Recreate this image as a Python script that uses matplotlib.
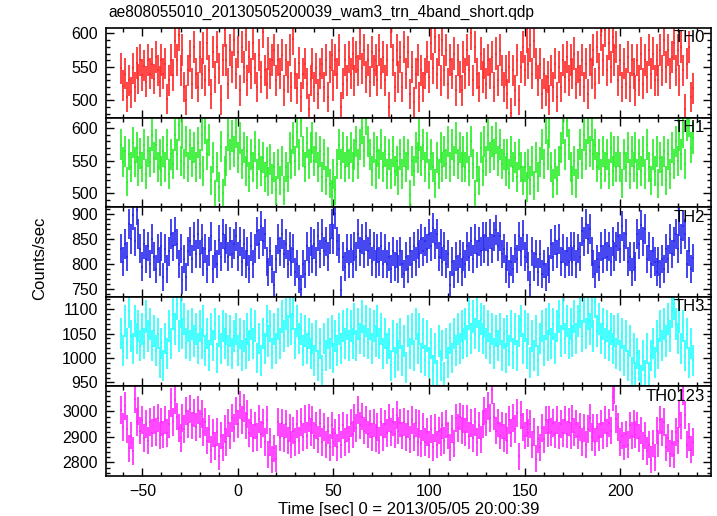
"""Five-band WAM light curve (TH0..TH3 and their sum), 1 s bins, QDP-style stacked panels."""

import matplotlib

matplotlib.use("Agg")
import matplotlib.pyplot as plt
import numpy as np
from matplotlib.ticker import MultipleLocator

TITLE = "ae808055010_20130505200039_wam3_trn_4band_short.qdp"
XLABEL = "Time [sec] 0 = 2013/05/05 20:00:39"
YLABEL = "Counts/sec"
T_START = -61  # centre of the first 1 s bin
BIN = 1.0

th0 = [
    548, 522, 540, 505, 530, 512, 548, 520, 556, 532, 560, 538, 552, 528, 560, 540, 555, 532, 565, 545,
    528, 560, 540, 555, 502, 530, 560, 538, 588, 560, 598, 545, 575, 520, 500, 545, 566, 525, 580, 540,
    520, 565, 540, 578, 530, 585, 545, 510, 572, 535, 580, 548, 500, 560, 605, 560, 525, 575, 550, 590,
    540, 572, 515, 580, 550, 598, 530, 565, 540, 585, 548, 520, 568, 535, 602, 545, 525, 570, 540, 560,
    575, 530, 560, 540, 568, 515, 560, 535, 575, 520, 592, 540, 518, 556, 505, 540, 555, 525, 488, 530,
    555, 520, 548, 510, 540, 555, 520, 560, 505, 550, 568, 522, 560, 540, 575, 490, 525, 560, 530, 565,
    540, 570, 530, 565, 545, 585, 548, 575, 535, 560, 528, 572, 545, 560, 530, 575, 540, 565, 530, 560,
    490, 602, 560, 520, 575, 535, 565, 520, 580, 540, 572, 510, 550, 498, 540, 560, 505, 545, 520, 540,
    565, 535, 585, 548, 595, 540, 575, 530, 590, 545, 575, 525, 560, 540, 570, 515, 560, 535, 515, 565,
    540, 575, 545, 600, 530, 580, 540, 520, 570, 535, 555, 525, 560, 540, 565, 520, 570, 530, 575, 545,
    520, 545, 510, 550, 482, 545, 515, 560, 500, 550, 580, 545, 595, 555, 582, 540, 588, 555, 530, 555,
    510, 540, 515, 535, 500, 545, 520, 555, 505, 550, 520, 560, 535, 565, 530, 560, 540, 570, 525, 550,
    530, 560, 520, 555, 510, 560, 540, 575, 525, 580, 548, 598, 560, 605, 545, 585, 550, 595, 560, 580,
    530, 560, 520, 555, 525, 565, 520, 560, 540, 515, 560, 530, 570, 525, 560, 535, 575, 540, 570, 530,
    560, 530, 575, 545, 590, 550, 575, 540, 565, 585, 545, 575, 530, 580, 545, 488, 555, 580, 505, 518,
]
th1 = [
    575, 548, 565, 518, 560, 540, 578, 548, 570, 535, 562, 540, 575, 530, 565, 548, 590, 555, 575, 540,
    560, 535, 565, 540, 575, 530, 560, 545, 590, 560, 605, 550, 592, 545, 580, 540, 575, 548, 570, 540,
    578, 545, 590, 535, 600, 560, 582, 520, 555, 498, 540, 510, 572, 500, 535, 550, 590, 560, 588, 565,
    595, 555, 585, 545, 570, 535, 565, 525, 560, 540, 572, 530, 560, 535, 555, 525, 548, 518, 552, 522,
    540, 505, 545, 520, 550, 505, 540, 525, 570, 545, 585, 550, 595, 560, 612, 565, 540, 578, 545, 570,
    585, 550, 570, 540, 565, 525, 560, 520, 548, 515, 498, 530, 505, 545, 575, 545, 570, 540, 565, 545,
    570, 540, 560, 580, 545, 575, 600, 565, 614, 580, 560, 535, 570, 530, 565, 545, 575, 540, 565, 530,
    560, 530, 565, 535, 550, 520, 560, 530, 565, 540, 560, 498, 550, 535, 570, 555, 590, 550, 575, 540,
    570, 530, 560, 540, 515, 555, 530, 570, 540, 565, 545, 580, 540, 575, 550, 585, 545, 570, 540, 565,
    540, 570, 535, 580, 545, 498, 540, 520, 570, 535, 580, 550, 590, 555, 580, 560, 585, 550, 575, 545,
    560, 535, 560, 530, 565, 540, 555, 525, 560, 540, 520, 540, 510, 545, 520, 550, 512, 555, 525, 548,
    575, 545, 600, 560, 595, 540, 515, 545, 520, 550, 570, 600, 560, 612, 575, 540, 520, 550, 515, 545,
    575, 545, 590, 560, 600, 565, 605, 560, 575, 540, 560, 530, 565, 540, 560, 530, 570, 535, 565, 540,
    565, 540, 515, 560, 540, 570, 530, 565, 540, 570, 530, 560, 535, 565, 530, 575, 540, 520, 560, 535,
    565, 515, 555, 535, 565, 520, 560, 530, 570, 545, 580, 550, 590, 560, 595, 545, 605, 612, 570, 585,
]
th2 = [
    830, 805, 840, 815, 880, 850, 898, 845, 908, 860, 830, 795, 840, 810, 835, 800, 850, 815, 790, 830,
    805, 835, 775, 830, 790, 825, 860, 835, 865, 840, 800, 830, 768, 810, 775, 825, 845, 810, 855, 820,
    860, 820, 850, 805, 830, 790, 825, 855, 790, 820, 800, 848, 815, 860, 830, 850, 815, 845, 820, 840,
    855, 815, 845, 805, 840, 800, 825, 790, 835, 800, 830, 865, 840, 875, 845, 860, 805, 785, 825, 790,
    758, 810, 850, 825, 860, 820, 840, 800, 835, 805, 830, 785, 800, 770, 750, 800, 780, 835, 805, 845,
    810, 840, 805, 855, 820, 860, 825, 845, 815, 850, 880, 850, 900, 845, 830, 748, 815, 795, 830, 800,
    830, 800, 835, 815, 860, 825, 850, 820, 855, 825, 840, 805, 835, 800, 830, 805, 835, 800, 830, 800,
    815, 790, 825, 795, 820, 790, 825, 800, 780, 815, 790, 825, 800, 835, 805, 840, 820, 850, 825, 845,
    830, 860, 835, 872, 840, 860, 815, 840, 805, 835, 800, 820, 758, 805, 780, 815, 790, 820, 785, 815,
    800, 835, 815, 845, 810, 850, 820, 845, 825, 855, 830, 855, 825, 860, 830, 855, 868, 835, 855, 820,
    830, 790, 815, 780, 805, 790, 830, 810, 855, 825, 858, 815, 830, 795, 758, 825, 795, 820, 785, 820,
    780, 800, 775, 805, 790, 840, 815, 848, 820, 850, 805, 830, 800, 825, 805, 835, 805, 835, 800, 830,
    815, 865, 845, 880, 850, 870, 825, 800, 780, 810, 795, 835, 810, 840, 815, 835, 805, 845, 815, 835,
    855, 830, 875, 835, 860, 805, 815, 785, 815, 795, 860, 840, 878, 845, 870, 810, 835, 800, 825, 805,
    785, 805, 780, 810, 790, 830, 810, 850, 820, 845, 860, 830, 885, 850, 875, 860, 800, 825, 790, 812,
]
th3 = [
    1050, 1015, 1075, 1030, 1095, 1045, 1020, 1075, 1040, 1065, 1025, 1060, 1030, 1085, 1045, 1070, 1025, 1055, 1015, 1050,
    990, 1030, 985, 1040, 1010, 1065, 1030, 1090, 1060, 1110, 1045, 1095, 1050, 1080, 1030, 1065, 1025, 1070, 1035, 1060,
    1020, 1065, 1030, 1075, 1015, 1050, 1005, 1060, 1025, 1070, 1000, 1055, 1020, 1065, 1030, 1060, 1015, 1055, 1010, 1045,
    1060, 1015, 1050, 1005, 1045, 1010, 1060, 1025, 1070, 1030, 1065, 1000, 1040, 995, 1050, 1020, 1075, 1035, 1065, 1010,
    1060, 1020, 1070, 1030, 1085, 1045, 1090, 1055, 1115, 1060, 1090, 1030, 1075, 1040, 1060, 1015, 1055, 1020, 1050, 1010,
    1040, 995, 1045, 985, 1030, 975, 1040, 1005, 1050, 1010, 1055, 1000, 1045, 1015, 1060, 1020, 1065, 1030, 1070, 1025,
    1065, 1030, 1080, 1025, 1070, 1040, 1085, 1035, 1075, 1030, 1070, 1020, 1065, 1035, 1075, 1030, 1060, 1010, 1050, 1020,
    1030, 985, 1045, 990, 1040, 1005, 1050, 995, 1035, 980, 1055, 1010, 1060, 1005, 1070, 1020, 1060, 1000, 1050, 995,
    1045, 990, 1030, 975, 1020, 965, 1035, 985, 1025, 960, 1030, 990, 1040, 1000, 1050, 1015, 1060, 1020, 1065, 1030,
    1070, 1035, 1090, 1040, 1085, 1050, 1095, 1045, 1080, 1040, 1075, 1030, 1065, 1020, 1060, 1010, 1055, 1025, 1060, 1005,
    1050, 1000, 1055, 1015, 1065, 1010, 1060, 1005, 1055, 1075, 1020, 1065, 1010, 1060, 990, 1045, 1005, 1055, 995, 1040,
    1065, 1015, 1070, 1025, 1080, 1030, 1070, 1020, 1065, 1085, 1035, 1090, 1040, 1075, 1030, 1070, 1035, 1085, 1040, 1075,
    1095, 1045, 1105, 1050, 1090, 1060, 1095, 1045, 1115, 1055, 1080, 1040, 1070, 1030, 1065, 1025, 1060, 1020, 1055, 1010,
    1060, 1005, 1050, 995, 1045, 985, 1035, 970, 1020, 960, 1010, 985, 955, 1005, 965, 1020, 960, 1005, 1030, 990,
    1045, 1010, 1065, 1025, 1070, 1035, 1080, 1045, 1095, 1110, 1070, 1040, 1085, 1020, 1065, 1005, 1050, 990, 1030, 995,
]
th0123 = [
    3005, 2940, 3020, 2930, 2855, 2905, 2845, 3050, 2960, 3000, 2925, 2965, 2895, 2950, 2885, 2960, 2915, 2965, 2920, 2975,
    2905, 2960, 2910, 2965, 2915, 2950, 3035, 2960, 3045, 2980, 2935, 2895, 2975, 2930, 3000, 2950, 3010, 2945, 2995, 2940,
    3005, 2950, 2990, 2920, 2960, 2885, 2930, 2850, 2915, 2865, 2920, 2825, 2905, 2860, 2930, 2880, 2955, 2905, 2975, 2935,
    3000, 2950, 3025, 2965, 3015, 2945, 2990, 2915, 2955, 2895, 2945, 2900, 2970, 2910, 2955, 2880, 2965, 2830, 2880, 2810,
    2855, 2815, 2960, 2900, 2955, 2895, 2950, 2885, 2935, 2870, 2925, 2880, 2950, 2885, 2960, 2900, 2970, 2905, 2975, 2920,
    2965, 2905, 2945, 2890, 2955, 2880, 2940, 2870, 2925, 2860, 2945, 2880, 2915, 2860, 2935, 2870, 2945, 2880, 2935, 2890,
    2955, 2910, 2975, 2935, 3005, 2945, 2980, 2925, 2965, 2910, 2950, 2900, 2955, 2895, 2940, 2885, 2960, 2900, 2950, 2915,
    2975, 2920, 2960, 2910, 2985, 2925, 2955, 2905, 2960, 2900, 2950, 2890, 2965, 2900, 2955, 2880, 2950, 2875, 2940, 2880,
    2920, 2870, 2930, 2860, 2935, 2870, 2925, 2880, 2945, 2885, 2950, 2905, 2860, 2930, 2875, 2975, 2935, 2980, 2925, 2970,
    2920, 2970, 2905, 2955, 2895, 2960, 2880, 2945, 2890, 2950, 3000, 2960, 3020, 2975, 3085, 2980, 2925, 2955, 2905, 2945,
    2895, 2940, 2885, 2965, 2915, 2975, 2930, 2995, 2825, 2985, 2940, 2905, 2955, 2915, 2950, 2870, 2920, 2815, 2890, 2860,
    2935, 2890, 2965, 2915, 2965, 2920, 2955, 2910, 2965, 2905, 2950, 2915, 2965, 2910, 2960, 2905, 2970, 2920, 2950, 2905,
    2940, 2880, 2935, 2870, 2930, 2975, 2900, 2935, 2880, 2935, 2900, 2950, 2905, 2965, 2915, 2955, 2925, 3055, 3085, 2970,
    2940, 2880, 2905, 2865, 2910, 2870, 2945, 2905, 2950, 2910, 2945, 2895, 2925, 2865, 2905, 2845, 2870, 2810, 2875, 2820,
    2925, 2875, 2965, 2920, 2960, 2860, 2895, 2835, 2875, 2830, 2920, 2885, 2990, 2945, 3080, 2985, 2870, 2900, 2850, 2880,
]

BANDS = ["TH0", "TH1", "TH2", "TH3", "TH0123"]
SERIES = [th0, th1, th2, th3, th0123]
COLORS = ["#ff2a2a", "#2aee2a", "#2a2aee", "#2affff", "#ff2aff"]
YLIMS = [(474.5, 608), (478.7, 616.7), (735, 913), (942, 1125), (2747, 3098)]
YMAJOR = [50, 50, 50, 50, 100]
YMINOR = [10, 10, 10, 10, 20]


def main() -> None:
    plt.rcParams["font.family"] = ["Liberation Sans", "DejaVu Sans"]

    W, H = 717, 516
    left, right, top, bottom = 106 / W, 711 / W, 1 - 28 / H, 1 - 476 / H
    fig, axes = plt.subplots(
        len(SERIES), 1, sharex=True, figsize=(W / 100, H / 100), dpi=100,
        gridspec_kw=dict(left=left, right=right, top=top, bottom=bottom, hspace=0),
    )

    for ax, name, rate, color, ylim, major, minor in zip(
        axes, BANDS, SERIES, COLORS, YLIMS, YMAJOR, YMINOR
    ):
        rate = np.asarray(rate, dtype=float)
        t = T_START + BIN * np.arange(len(rate))
        err = np.sqrt(rate * BIN) / BIN  # Poisson error of a 1 s bin
        ax.errorbar(t, rate, xerr=BIN / 2, yerr=err, fmt="none",
                    ecolor=color, elinewidth=1.3, alpha=0.95)
        ax.set_ylim(*ylim)
        ax.yaxis.set_major_locator(MultipleLocator(major))
        ax.yaxis.set_minor_locator(MultipleLocator(minor))
        ax.text(0.99, 0.89, name, transform=ax.transAxes, ha="right",
                va="center", fontsize=12)
        ax.tick_params(which="both", direction="in", top=True, right=True,
                       width=1.0, labelsize=11.5, pad=6)
        ax.tick_params(which="major", length=6)
        ax.tick_params(which="minor", length=3)
        for spine in ax.spines.values():
            spine.set_linewidth(1.2)

    axes[-1].set_xlim(-69, 247.5)
    axes[-1].xaxis.set_major_locator(MultipleLocator(50))
    axes[-1].xaxis.set_minor_locator(MultipleLocator(10))
    axes[-1].set_xlabel(XLABEL, fontsize=12, labelpad=2)

    fig.text(40 / W, 1 - 258 / H, YLABEL, rotation=90, ha="center",
             va="center", fontsize=12)
    fig.text(108 / W, 1 - 12 / H, TITLE, ha="left", va="center", fontsize=11.2)

    fig.savefig("out.png", dpi=100)


if __name__ == "__main__":
    main()
